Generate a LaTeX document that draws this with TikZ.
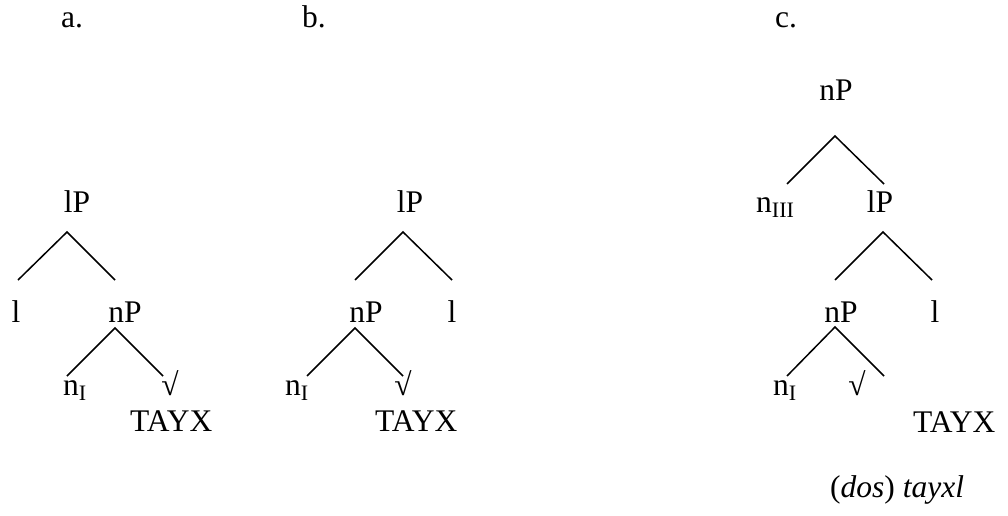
\documentclass[tikz,border=0pt]{standalone}
\usepackage{fontspec}
\setmainfont{Liberation Serif}
\usepackage{tikz}

\tikzset{
  lab/.style={anchor=base},
  labw/.style={anchor=base west},
  branch/.style={line width=1.5pt}
}

\begin{document}
\begin{tikzpicture}[x=1pt, y=-1pt, every node/.style={inner sep=0pt, font=\fontsize{31.5}{38}\selectfont}]
            \useasboundingbox (0,0) rectangle (1008,516);

            % Tree a
            \node[labw] (tagA) at (61,28) {a.};
            \node[lab] (lPa) at (77,212) {lP};
            \node[lab] (la) at (16,322) {l};
            \node[lab] (nPa) at (125,322) {nP};
            \node[labw] (nIa) at (63,395) {n\textsubscript{I}};
            \node[lab] (rta) at (170,395) {√};
            \node[labw] (tayxA) at (130,431) {TAYX};

            \coordinate (aTop) at (67,232);
            \coordinate (aL) at (18,280);
            \coordinate (aR) at (115,280);
            \coordinate (aTop2) at (115,328);
            \coordinate (aL2) at (67,376);
            \coordinate (aR2) at (163,376);

            \draw[branch] (aL) -- (aTop) -- (aR);
            \draw[branch] (aL2) -- (aTop2) -- (aR2);

            % Tree b
            \node[labw] (tagB) at (302,28) {b.};
            \node[lab] (lPb) at (410,212) {lP};
            \node[lab] (nPb) at (366,322) {nP};
            \node[lab] (lb) at (452,322) {l};
            \node[labw] (nIb) at (285,395) {n\textsubscript{I}};
            \node[lab] (rtb) at (403,395) {√};
            \node[labw] (tayxB) at (375,431) {TAYX};

            \coordinate (bTop) at (403,232);
            \coordinate (bL) at (355,280);
            \coordinate (bR) at (452,280);
            \coordinate (bTop2) at (355,328);
            \coordinate (bL2) at (307,376);
            \coordinate (bR2) at (403,376);

            \draw[branch] (bL) -- (bTop) -- (bR);
            \draw[branch] (bL2) -- (bTop2) -- (bR2);

            % Tree c
            \node[labw] (tagC) at (775,28) {c.};
            \node[lab] (nPc) at (836,101) {nP};
            \node[labw] (nIIIc) at (756,212) {n\textsubscript{III}};
            \node[lab] (lPc) at (880,212) {lP};
            \node[lab] (nPc2) at (841,322) {nP};
            \node[lab] (lc) at (935,322) {l};
            \node[labw] (nIc) at (773,395) {n\textsubscript{I}};
            \node[lab] (rtc) at (857,395) {√};
            \node[labw] (tayxC) at (913,432) {TAYX};
            \node[labw] (gloss) at (830,497) {(\textit{dos}) \textit{tayxl}};

            \coordinate (cTop) at (835,136);
            \coordinate (cL) at (787,184);
            \coordinate (cR) at (884,184);
            \coordinate (cTop2) at (883,232);
            \coordinate (cL2) at (835,280);
            \coordinate (cR2) at (932,280);
            \coordinate (cTop3) at (835,327);
            \coordinate (cL3) at (787,376);
            \coordinate (cR3) at (884,376);

            \draw[branch] (cL) -- (cTop) -- (cR);
            \draw[branch] (cL2) -- (cTop2) -- (cR2);
            \draw[branch] (cL3) -- (cTop3) -- (cR3);
\end{tikzpicture}
\end{document}
